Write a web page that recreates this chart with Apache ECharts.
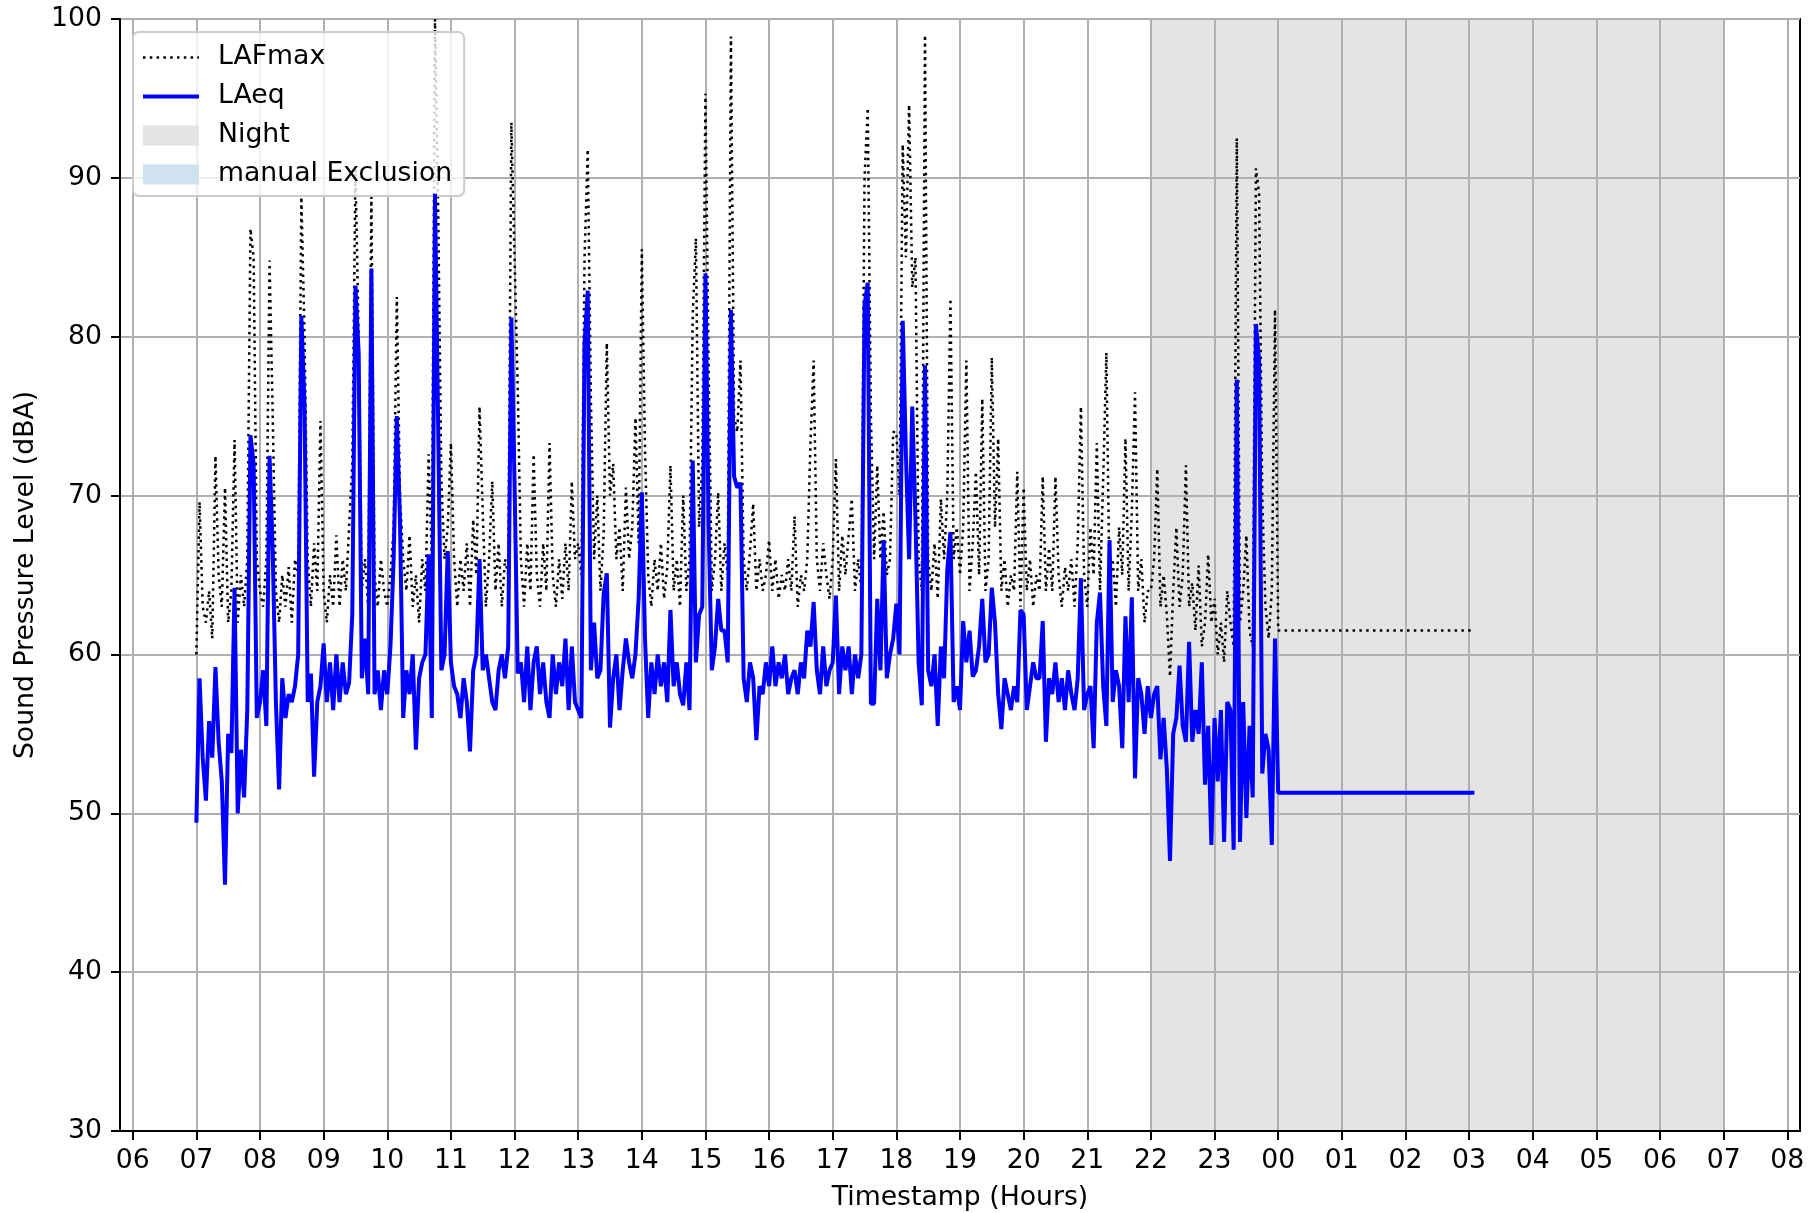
<!DOCTYPE html>
<html>
<head>
<meta charset="utf-8">
<title>Sound Pressure Level</title>
<script src="https://cdn.jsdelivr.net/npm/echarts@6/dist/echarts.min.js"></script>
<style>
    html, body { margin: 0; padding: 0; background: #fff; }
    #main { width: 1819px; height: 1213px; }
</style>
</head>
<body>
<div id="main"></div>
<script>
// samples every 3 minutes starting 07:00, one row per hour
var startHour = 7;
var stepMinutes = 3;

var laeq = [
    49.4, 58.5, 53.5, 50.8, 55.8, 53.5, 59.2, 54.5, 52, 45.5, 55, 53.8, 64.2, 50, 54, 51, 56.5, 73.8, 72, 56,
    57, 59, 55.5, 72.5, 66.5, 57, 51.5, 58.5, 56, 57.5, 57, 58, 60, 81.3, 75.6, 57, 58.8, 52.3, 57, 58,
    60.7, 57, 59.5, 56.5, 60, 57, 59.5, 57.5, 58.2, 62.5, 83.2, 79, 58.5, 61, 57.5, 84.3, 57.5, 59, 56.5, 59,
    57.5, 60.5, 66, 75, 68.4, 56, 59, 57.5, 60, 54, 58.5, 59.5, 60, 66.3, 56, 89, 74.3, 59, 60, 66.5,
    59.5, 58, 57.5, 56, 58.5, 57, 53.9, 59, 60, 66, 59, 60, 58.5, 57, 56.5, 59, 60, 58.5, 60.5, 81.2,
    70.8, 58.8, 59.5, 57, 60.5, 56.5, 59.5, 60.5, 57.5, 59.5, 57, 56, 60, 57.5, 59.5, 58, 61, 56.5, 60.5, 57,
    56.5, 56, 79.6, 82.9, 59, 62, 58.5, 59, 63.8, 65.1, 55.4, 58.5, 60, 56.5, 59, 61, 59.5, 58.5, 60, 63.5,
    70.2, 61, 56, 59.5, 57.5, 60, 58, 59.5, 57, 62.8, 58, 59.5, 57.5, 56.8, 59.5, 56.5, 72.2, 59.5, 62.5, 63,
    84, 68, 59, 60.5, 63.5, 61.5, 61.5, 59.5, 81.7, 71.2, 70.5, 70.8, 58.5, 57, 59.5, 58.5, 54.6, 58, 57.5, 59.5,
    58, 60.5, 58, 59.5, 58.5, 60, 57.5, 58.5, 59, 57.5, 59.5, 58.5, 61.5, 60.5, 63.3, 59, 57.5, 60.5, 58, 59,
    59.5, 63.7, 57.5, 60.5, 59, 60.5, 57.5, 60, 58.5, 60, 82, 83.4, 56.9, 56.9, 63.5, 59, 67.2, 58.5, 60, 61,
    63.2, 60, 81, 72.6, 66, 75.6, 68.6, 59.5, 56.8, 78.2, 59, 58, 60, 55.5, 60.5, 58.5, 65.3, 67.7, 57, 58,
    56.5, 62.1, 59.5, 61.5, 58.6, 59, 60.5, 63.5, 59.5, 60, 64.2, 62, 57.5, 55.3, 58.5, 57.5, 56.5, 58, 57, 62.8,
    62.5, 56.5, 58, 59.5, 58.5, 58.5, 62.1, 54.5, 58.5, 57.5, 59.5, 57, 58.5, 56.5, 59, 57.5, 56.5, 58.5, 64.8, 56.5,
    57.5, 58, 54.1, 62, 63.9, 58, 55.5, 67.2, 57, 59, 58, 54.1, 62.4, 57, 63.6, 52.2, 58.5, 57.5, 55, 58,
    56, 57.5, 58, 53.4, 56, 52.8, 47, 55, 56, 59.3, 55.5, 54.5, 60.8, 54.5, 56.5, 55, 59.5, 51.8, 55.5, 48,
    56, 52, 56.5, 48.2, 57, 56.5, 47.7, 77.3, 48.2, 57, 49.7, 55.5, 51, 80.8, 78.5, 52.5, 55, 54, 48, 61
];

var lafmax = [
    60, 69.6, 63, 62, 64, 61, 72.5, 65, 63, 70.5, 62, 64, 73.5, 62, 65, 63, 66, 86.8, 85, 66,
    64, 63, 66, 84.8, 75, 64, 62, 65, 63, 65.5, 62, 66, 65, 88.8, 80, 66, 63, 67, 64, 74.7,
    64, 62, 65, 63, 67.5, 63, 66, 64, 68, 72, 90.5, 80, 64, 66, 63, 88.8, 65, 63, 66, 64,
    63, 65, 68, 82.5, 70, 66, 64, 67.5, 63, 65, 62, 66, 64, 72.6, 66, 100, 88, 71, 66, 68,
    73.3, 66, 63, 66, 64, 67, 63, 68.5, 65, 75.6, 69, 63, 66, 70.9, 64, 67, 63, 66, 65, 93.5,
    85, 76.8, 66, 63, 67, 64, 72.6, 65, 63, 67, 64, 73.3, 65, 63, 66, 63.5, 67, 64, 70.9, 66,
    67, 65, 85, 91.8, 76, 66, 70, 64, 67.5, 79.6, 70, 72, 66, 68, 64, 70.5, 66, 68, 74.9, 67,
    85.5, 73, 65, 63, 66, 64, 67, 63.5, 65.5, 71.9, 64, 66, 63, 70, 64, 66, 81.3, 86.2, 68, 72,
    95.3, 78, 64, 66, 70.2, 64, 67, 65, 98.9, 75, 74, 78.5, 66, 64, 66.5, 69.5, 64, 66, 64, 65,
    67.2, 64, 66, 63.5, 65, 64, 66, 64, 68.7, 63, 65, 64, 66, 73.3, 78.5, 66, 64, 67, 65, 63.5,
    66, 72.3, 64, 67.5, 65, 67.5, 69.8, 64, 66, 64, 90, 94.4, 75, 66, 71.9, 66, 69, 65, 66, 74,
    74, 70, 92.1, 85, 94.6, 83.1, 85, 66, 64, 99, 66, 64, 67, 63.5, 69.8, 66, 70, 82.4, 66, 68,
    65, 68, 78.5, 64, 67, 71.5, 65, 76.1, 64, 66, 78.7, 68, 73.6, 64, 66, 63, 65, 64, 71.5, 63,
    70.5, 64, 66, 63, 65, 64, 71.2, 64, 66.7, 64, 71.2, 65, 63, 65.5, 64, 66, 63, 67, 75.6, 65,
    63, 68, 65, 73.3, 64, 71, 79, 64, 66, 63, 68, 65, 73.6, 64, 69, 76.5, 64, 66, 62, 64,
    64, 66, 71.7, 63, 65, 62.5, 58.6, 64, 68, 63, 65, 71.9, 63, 64.5, 61.5, 65.6, 60.5, 62, 66.3, 62,
    63.5, 60, 62, 59.5, 64, 62, 60.5, 92.5, 62, 64, 67.5, 61.5, 60.5, 90.6, 89, 69.8, 63, 61, 64, 81.7
];

// last readings after midnight (hours since day start)
var tailHours = [24, 27.0833];
var tailLaeq = [51.3, 51.3];
var tailLafmax = [61.5, 61.5];

// night period 22:00 -> 07:00 next day
var nightStart = 22;
var nightEnd = 31;

var tickHours = [6, 7, 8, 9, 10, 11, 12, 13, 14, 15, 16, 17, 18, 19, 20, 21, 22, 23, 24, 25, 26, 27, 28, 29, 30, 31, 32];

var fontName = 'DejaVu Sans';
var fontSize = 26.7;

var laeqData = [];
var lafmaxData = [];
for (var i = 0; i < laeq.length; i++) {
    var h = startHour + i * stepMinutes / 60;
    laeqData.push([h, laeq[i]]);
    lafmaxData.push([h, lafmax[i]]);
}
for (var j = 0; j < tailHours.length; j++) {
    laeqData.push([tailHours[j], tailLaeq[j]]);
    lafmaxData.push([tailHours[j], tailLafmax[j]]);
}

function hourLabel(v) {
    var h = Math.round(v) % 24;
    return (h < 10 ? '0' : '') + h;
}

var myChart = echarts.init(document.getElementById('main'), null, { renderer: 'canvas' });
var option = {
    animation: false,
    backgroundColor: '#fff',
    textStyle: { fontFamily: fontName },
    grid: {
        left: 120, right: 19, top: 19, bottom: 82,
        show: true, borderColor: '#000', borderWidth: 2,
        containLabel: false,
        outerBoundsMode: 'none'
    },
    legend: {
        orient: 'vertical',
        left: 133, top: 32,
        padding: [12, 12, 8, 8],
        itemWidth: 56, itemHeight: 20, itemGap: 12,
        borderColor: '#cccccc', borderWidth: 2, borderRadius: 6,
        backgroundColor: 'rgba(255,255,255,0.8)',
        textStyle: { fontFamily: fontName, fontSize: fontSize, color: '#000', lineHeight: 27, padding: [0, 0, 0, 14] },
        data: [
            // hide the marker dot, keep only the line sample
            { name: 'LAFmax', itemStyle: { opacity: 0 }, lineStyle: { color: '#000', width: 2.5, type: [2.5, 4.3] } },
            { name: 'LAeq', itemStyle: { opacity: 0 }, lineStyle: { color: '#0000ff', width: 4 } },
            { name: 'Night', icon: 'rect' },
            { name: 'manual Exclusion', icon: 'rect' }
        ]
    },
    xAxis: {
        type: 'value',
        min: 5.8, max: 32.2,
        z: 2,
        name: 'Timestamp (Hours)',
        nameLocation: 'middle',
        nameGap: 54,
        nameTextStyle: { fontFamily: fontName, fontSize: fontSize, color: '#000' },
        axisLine: { show: true, onZero: false, lineStyle: { color: '#000', width: 2 } },
        axisTick: { show: true, length: 9, lineStyle: { color: '#000', width: 2 }, customValues: tickHours },
        axisLabel: {
            customValues: tickHours,
            margin: 17,
            fontFamily: fontName, fontSize: fontSize, color: '#000',
            formatter: hourLabel
        },
        splitLine: { show: true, lineStyle: { color: '#b0b0b0', width: 2 } }
    },
    yAxis: {
        type: 'value',
        min: 30, max: 100, interval: 10,
        z: 2,
        name: 'Sound Pressure Level (dBA)',
        nameLocation: 'middle',
        nameRotate: 90,
        nameGap: 80,
        nameTextStyle: { fontFamily: fontName, fontSize: fontSize, color: '#000' },
        axisLine: { show: true, lineStyle: { color: '#000', width: 2 } },
        axisTick: { show: true, length: 9, lineStyle: { color: '#000', width: 2 } },
        axisLabel: { margin: 18, fontFamily: fontName, fontSize: fontSize, color: '#000' },
        splitLine: { show: true, lineStyle: { color: '#b0b0b0', width: 2 } }
    },
    series: [
        {
            name: 'Night',
            type: 'line',
            z: 1,
            data: [],
            color: '#e4e4e4',
            symbol: 'none',
            silent: true,
            markArea: {
                silent: true,
                itemStyle: { color: '#e4e4e4' },
                data: [[{ xAxis: nightStart }, { xAxis: nightEnd }]]
            }
        },
        {
            name: 'manual Exclusion',
            type: 'line',
            z: 1,
            data: [],
            color: '#cfe2ee',
            symbol: 'none'
        },
        {
            name: 'LAFmax',
            type: 'line',
            z: 3,
            data: lafmaxData,
            color: '#000',
            symbol: 'none',
            lineStyle: { color: '#000', width: 2.5, type: [2.5, 4.3] }
        },
        {
            name: 'LAeq',
            type: 'line',
            z: 4,
            data: laeqData,
            color: '#0000ff',
            symbol: 'none',
            lineStyle: { color: '#0000ff', width: 4 }
        }
    ]
};
myChart.setOption(option);
</script>
</body>
</html>
